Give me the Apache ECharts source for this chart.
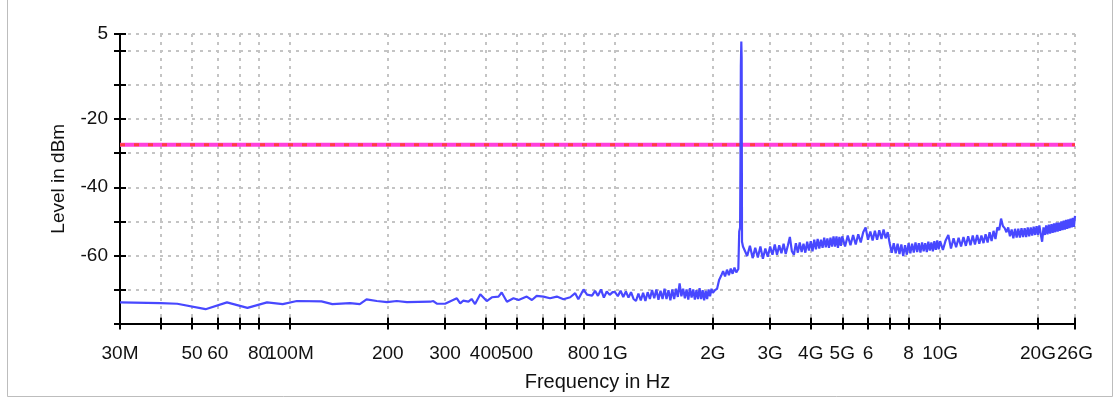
<!DOCTYPE html>
<html>
<head>
<meta charset="utf-8">
<script src="https://cdn.jsdelivr.net/npm/echarts@6/dist/echarts.min.js"></script>
<style>
  html, body { margin: 0; background: #fff; }
  #chart { width: 1120px; height: 398px; }
</style>
</head>
<body>
<div id="chart"></div>
<script>
// spectrum trace, [frequency in MHz, level in dBm]
const traceLow = [
  [30, -73.8], [40, -74.0], [45, -74.2], [55, -75.8], [64, -73.8], [74, -75.4], [85, -73.8],
  [95, -74.3], [105, -73.4], [125, -73.5], [135, -74.3], [153, -74.0], [164, -74.3], [172, -72.9],
  [185, -73.4], [199, -73.7], [213, -73.4], [229, -73.7], [270, -73.6], [276, -73.4], [283, -74.2],
  [300, -74.2], [326, -72.6], [334, -74.1], [341, -73.3], [354, -73.6], [362, -72.8], [371, -74.3],
  [385, -71.4], [403, -73.4], [418, -72.3], [438, -72.1], [448, -70.9], [465, -73.6], [487, -72.6],
  [505, -73.1], [535, -72.1], [555, -73.1], [574, -71.9], [602, -72.1], [631, -72.6], [662, -72.1],
  [694, -72.9], [728, -72.3], [754, -71.1], [771, -72.9], [800, -70.0], [820, -71.5],
  [850, -71.8], [868, -70.4], [886, -71.9], [905, -70.0], [924, -72.4], [943, -70.6], [963, -71.6],
  [983, -70.8]
];
const trace1G = [
  [1000, -70.8], [1020, -72.0], [1040, -70.4], [1060, -72.2], [1080, -70.6], [1100, -72.4],
  [1120, -70.8], [1140, -72.8], [1160, -73.4], [1180, -71.2], [1200, -73.2], [1220, -71.0],
  [1240, -73.4], [1260, -70.8], [1280, -72.8], [1300, -70.2], [1320, -72.6], [1340, -70.0],
  [1360, -73.0], [1380, -70.4], [1400, -72.8], [1420, -69.8], [1440, -72.8], [1460, -70.2],
  [1480, -73.2], [1500, -70.0], [1520, -72.8], [1540, -69.8], [1560, -72.2], [1580, -68.2],
  [1600, -72.0], [1620, -69.8], [1640, -72.6], [1660, -70.0], [1680, -73.0], [1700, -69.6],
  [1720, -72.4], [1740, -70.0], [1760, -73.0], [1780, -70.2], [1800, -72.8], [1820, -69.6],
  [1840, -72.8], [1860, -70.2], [1880, -73.2], [1900, -70.4], [1920, -72.8], [1940, -70.0],
  [1960, -72.0], [1980, -69.8]
];
const traceStep = [
  [2000, -71.0], [2030, -70.2], [2060, -69.8], [2090, -67.2], [2120, -66.0], [2150, -64.6],
  [2180, -66.2], [2210, -64.2], [2240, -65.8], [2270, -63.9], [2300, -65.4], [2330, -63.6],
  [2360, -65.0], [2395, -64.0], [2410, -53.0], [2425, -51.8], [2432, -30.0], [2438, -4.5],
  [2446, 2.8], [2452, -2.0], [2458, -56.0], [2475, -57.4], [2490, -57.4]
];
const trace3G = [
  [2500, -57.4], [2550, -60.2], [2600, -57.2], [2650, -60.8], [2700, -57.8], [2750, -60.6],
  [2800, -57.4], [2850, -61.0], [2900, -58.0], [2950, -60.4], [3000, -57.4], [3050, -59.8],
  [3100, -56.8], [3150, -59.8], [3200, -57.0], [3250, -59.4], [3300, -56.6], [3350, -59.6],
  [3400, -57.2], [3450, -54.6], [3500, -58.8], [3550, -59.8], [3600, -56.4], [3650, -59.2],
  [3700, -56.2], [3750, -59.0], [3800, -56.6], [3850, -59.2], [3900, -56.0], [3950, -58.6],
  [4000, -55.8], [4050, -58.8], [4100, -55.4], [4150, -58.2], [4200, -55.2], [4250, -58.0],
  [4300, -55.4], [4350, -57.8], [4400, -54.8], [4450, -57.6], [4500, -55.0], [4550, -57.8],
  [4600, -54.8], [4650, -57.4], [4700, -54.4], [4750, -57.4], [4800, -54.4], [4850, -57.8],
  [4900, -54.6], [4950, -57.2]
];
const trace5G = [
  [5000, -54.4], [5100, -57.4], [5200, -54.2], [5300, -57.0], [5400, -54.0], [5500, -56.8],
  [5600, -53.8], [5700, -56.2], [5800, -53.2], [5900, -51.8], [6000, -55.4], [6100, -53.0],
  [6200, -55.6], [6300, -52.8], [6400, -55.4], [6500, -52.6], [6600, -55.2], [6700, -52.4],
  [6800, -55.0], [6900, -53.2], [7000, -56.6], [7100, -59.2], [7200, -56.4], [7300, -59.4],
  [7400, -56.6], [7500, -59.6], [7600, -56.8], [7700, -60.2], [7800, -57.0], [7900, -59.8],
  [8000, -56.4], [8100, -59.4], [8200, -56.6], [8300, -59.2], [8400, -56.2], [8500, -59.0],
  [8600, -56.4], [8700, -59.2], [8800, -56.2], [8900, -58.8], [9000, -56.4], [9100, -59.0],
  [9200, -56.0], [9300, -58.6], [9400, -56.2], [9500, -58.8], [9600, -55.8], [9700, -58.4],
  [9800, -55.6], [9900, -58.2]
];
const trace10G = [
  [10000, -55.8], [10200, -58.4], [10400, -55.6], [10600, -54.0], [10800, -58.0], [11000, -55.0],
  [11200, -57.6], [11400, -54.8], [11600, -57.4], [11800, -54.6], [12000, -57.2], [12200, -54.4],
  [12400, -57.0], [12600, -54.2], [12800, -56.8], [13000, -54.0], [13200, -56.6], [13400, -54.2],
  [13600, -56.4], [13800, -53.8], [14000, -56.2], [14200, -53.2], [14400, -55.8], [14600, -52.8],
  [14800, -55.2], [15000, -51.8], [15200, -52.6], [15400, -49.2], [15600, -51.4], [15800, -52.0],
  [16000, -53.2], [16200, -51.8], [16400, -54.4], [16600, -52.4], [16800, -55.0], [17000, -52.2],
  [17200, -54.8], [17400, -52.2], [17600, -54.8], [17800, -52.0], [18000, -54.6], [18200, -52.0],
  [18400, -54.6], [18600, -51.8], [18800, -54.4], [19000, -51.8], [19200, -54.2], [19400, -51.6],
  [19600, -54.0], [19800, -51.4], [20000, -54.0], [20200, -51.2], [20400, -53.8], [20600, -56.0],
  [20800, -51.8], [21000, -54.0], [21200, -51.2], [21400, -53.8], [21600, -51.0], [21800, -53.6],
  [22000, -50.8], [22200, -53.4], [22400, -50.6], [22600, -53.2], [22800, -50.4], [23000, -53.0],
  [23200, -50.4], [23400, -52.8], [23600, -50.0], [23800, -52.6], [24000, -49.8], [24200, -52.4],
  [24400, -49.6], [24600, -52.2], [24800, -49.4], [25000, -52.0], [25200, -49.2], [25400, -51.8],
  [25600, -49.0], [25800, -51.6], [26000, -48.4]
];

// limit line
const limitDbm = -27.5;
const spanMHz = [30, 26000];

// axes
const xTickMHz = [30, 40, 50, 60, 70, 80, 100, 200, 300, 400, 500, 600, 700, 800, 1000,
  2000, 3000, 4000, 5000, 6000, 7000, 8000, 10000, 20000, 26000];
const xLabelMHz = [30, 50, 60, 80, 100, 200, 300, 400, 500, 800, 1000,
  2000, 3000, 4000, 5000, 6000, 8000, 10000, 20000, 26000];
const xLabelText = ['30M', '50', '60', '80', '100M', '200', '300', '400', '500', '800', '1G',
  '2G', '3G', '4G', '5G', '6', '8', '10G', '20G', '26G'];
const yTicks = [-80, -70, -60, -50, -40, -30, -20, -10, 0, 5];
const yLabels = [5, -20, -40, -60];

const toHz = (m) => m * 1e6;
const trace = [...traceLow, ...trace1G, ...traceStep, ...trace3G, ...trace5G, ...trace10G]
  .map(([m, d]) => [toHz(m), d]);

const FONT = 'Liberation Sans, Arial, sans-serif';
const GRID = { left: 120, right: 45, top: 34, bottom: 74.5 };
const grid = { color: '#c4c4c4', width: 2, type: [3, 5] };
const black = { color: '#000', width: 2 };

const xLabel = (v) => {
  const i = xLabelMHz.findIndex((m) => Math.abs(toHz(m) - v) / v < 1e-6);
  return i >= 0 ? xLabelText[i] : '';
};

/** x axis; the second copy only draws the inside half of the ticks */
const makeX = (gridIndex, inside) => ({
  type: 'log',
  logBase: 10,
  gridIndex,
  min: toHz(spanMHz[0]),
  max: toHz(spanMHz[1]),
  axisLine: { show: !inside, onZero: false, lineStyle: black },
  axisTick: { show: true, inside, length: 6, customValues: xTickMHz.map(toHz), lineStyle: black },
  axisLabel: {
    show: !inside,
    customValues: xLabelMHz.map(toHz),
    formatter: xLabel,
    margin: 21,
    color: '#111',
    fontSize: 19,
    fontFamily: FONT,
  },
  splitLine: { show: !inside, lineStyle: grid },
  name: inside ? '' : 'Frequency in Hz',
  nameLocation: 'middle',
  nameGap: 49,
  nameTextStyle: { color: '#111', fontSize: 20, fontFamily: FONT },
});

const makeY = (gridIndex, inside) => ({
  type: 'value',
  gridIndex,
  min: -80,
  max: 5,
  axisLine: { show: !inside, onZero: false, lineStyle: black },
  axisTick: { show: true, inside, length: 6, customValues: yTicks, lineStyle: black },
  axisLabel: {
    show: !inside,
    customValues: yLabels,
    margin: 12,
    color: '#111',
    fontSize: 19,
    fontFamily: FONT,
  },
  splitLine: { show: !inside, lineStyle: grid },
  name: inside ? '' : 'Level in dBm',
  nameLocation: 'middle',
  nameGap: 52,
  nameTextStyle: { color: '#111', fontSize: 19, fontFamily: FONT },
});

const chart = echarts.init(document.getElementById('chart'), null, { renderer: 'canvas' });
chart.setOption({
  animation: false,
  backgroundColor: '#fff',
  grid: [{ ...GRID }, { ...GRID }],
  xAxis: [makeX(0, false), makeX(1, true)],
  yAxis: [makeY(0, false), makeY(1, true)],
  graphic: [{
    type: 'rect',
    shape: { x: 7.5, y: -2, width: 1105, height: 398.5 },
    style: { fill: 'none', stroke: '#bdbdbd', lineWidth: 1 },
    silent: true,
  }],
  series: [
    {
      type: 'line',
      data: spanMHz.map((m) => [toHz(m), limitDbm]),
      showSymbol: false,
      lineStyle: { color: '#ff40dc', width: 4 },
      z: 3,
    },
    {
      type: 'line',
      data: spanMHz.map((m) => [toHz(m), limitDbm]),
      showSymbol: false,
      lineStyle: { color: '#ff4040', width: 3, type: [5, 9] },
      z: 4,
    },
    {
      type: 'line',
      data: trace,
      showSymbol: false,
      lineStyle: { color: '#4848ff', width: 2.2 },
      z: 5,
    },
  ],
});
</script>
</body>
</html>
